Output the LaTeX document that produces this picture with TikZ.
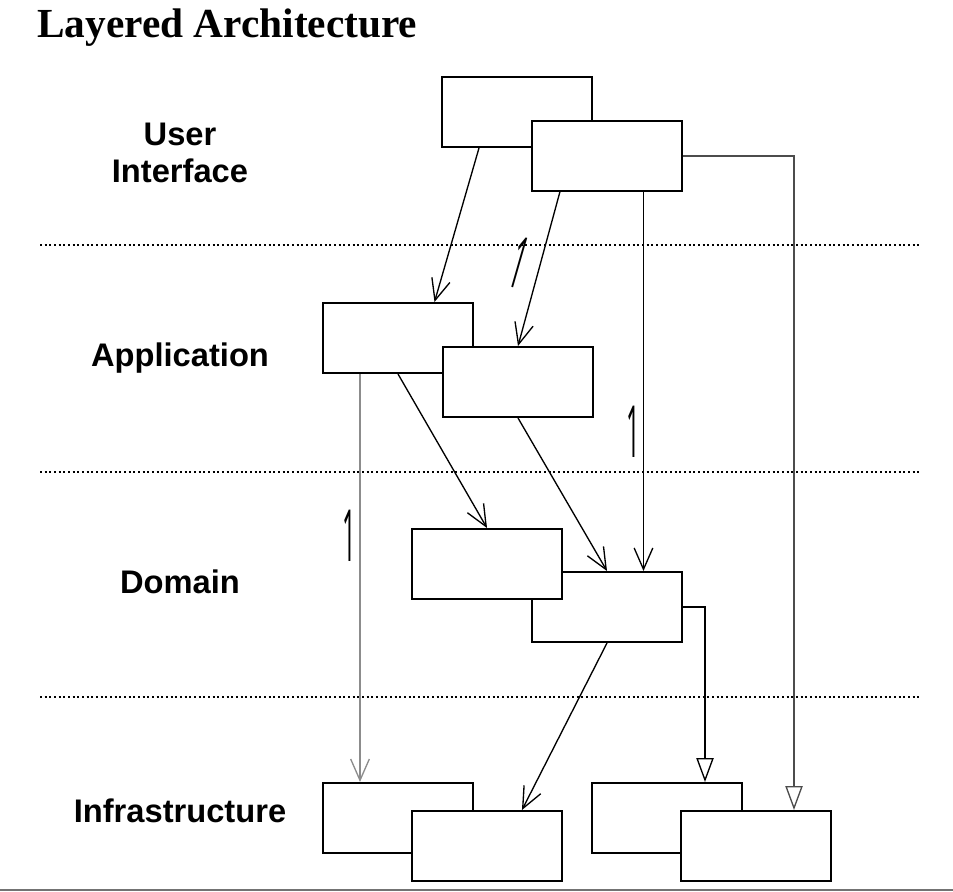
\documentclass[tikz,border=0pt]{standalone}
\usepackage{fontspec}
\setmainfont{Liberation Serif}
\setsansfont{Liberation Sans}
\newfontfamily\multfont{Open Sans}
\usetikzlibrary{arrows.meta,calc}

\begin{document}
\begin{tikzpicture}[x=0.75pt,y=-0.75pt,
  box/.style={draw,line width=1.5pt,fill=white,minimum width=112.5pt,minimum height=52.5pt,inner sep=0pt,anchor=north west},
  layer/.style={font=\sffamily\bfseries\fontsize{24.5}{28}\selectfont,align=center},
  sep/.style={line width=1.4pt,dash pattern=on 1.5pt off 2pt},
  uses/.style={line width=1pt,-{Straight Barb[length=16pt,width=14pt,line width=1pt]}},
  impl/.style={line width=1pt,-{Triangle[open,length=18pt,width=13pt,line width=1pt]}},
  mult/.style={font=\multfont\fontsize{18}{18}\selectfont,inner sep=0pt}]
\useasboundingbox (0,0) rectangle (953,892);
\node[font=\bfseries\fontsize{31}{34}\selectfont,anchor=base west,inner sep=0pt] (title) at (37,38) {Layered Architecture};
% layer separators
\draw[sep] (40,245) -- (920,245);
\draw[sep] (40,472) -- (920,472);
\draw[sep] (40,697) -- (920,697);
% layer names
\node[layer] (lui) at (180,153) {User\\Interface};
\node[layer] (lapp) at (180,358) {Application};
\node[layer] (ldom) at (180,582) {Domain};
\node[layer] (linf) at (180,811) {Infrastructure};
% boxes
\node[box] (ui1) at (441,76) {};
\node[box] (ui2) at (531,120) {};
\node[box] (app1) at (322,302) {};
\node[box] (app2) at (442,346) {};
\node[box] (dom2) at (531,571) {};
\node[box] (dom1) at (411,528) {};
\node[box] (inf1) at (322,782) {};
\node[box] (inf2) at (411,810) {};
\node[box] (inf3) at (591,782) {};
\node[box] (inf4) at (680,810) {};
\coordinate (uiA) at ($(ui2.south west)!.74!(ui2.south east)$);
\coordinate (appA) at ($(app1.south west)!.25!(app1.south east)$);
% dependencies
\draw[uses] ($(ui1.south west)!.25!(ui1.south east)$) -- ($(app1.north west)!.74!(app1.north east)$);
\draw[uses] ($(ui2.south west)!.19!(ui2.south east)$) -- (app2.north);
\draw[uses] (uiA) -- (uiA |- dom2.north);
\draw[impl,black!70] (ui2.east) -| ($(inf4.north west)!.75!(inf4.north east)$);
\draw[uses,black!45] (appA) -- (appA |- inf1.north);
\draw[uses] (app1.south) -- (dom1.north);
\draw[uses] (app2.south) -- (dom2.north);
\draw[impl] (dom2.east) -| ($(inf3.north west)!.75!(inf3.north east)$);
\draw[uses] (dom2.south) -- ($(inf2.north west)!.73!(inf2.north east)$);
% multiplicities
\node[mult,rotate=-16] (m1) at (519,263) {\scalebox{1}[3]{1}};
\node[mult] (m2) at (633,432) {\scalebox{1}[3]{1}};
\node[mult] (m3) at (349,536) {\scalebox{1}[3]{1}};
\draw[black!55,line width=1.5pt] (0,890) -- (953,890);
\end{tikzpicture}
\end{document}
